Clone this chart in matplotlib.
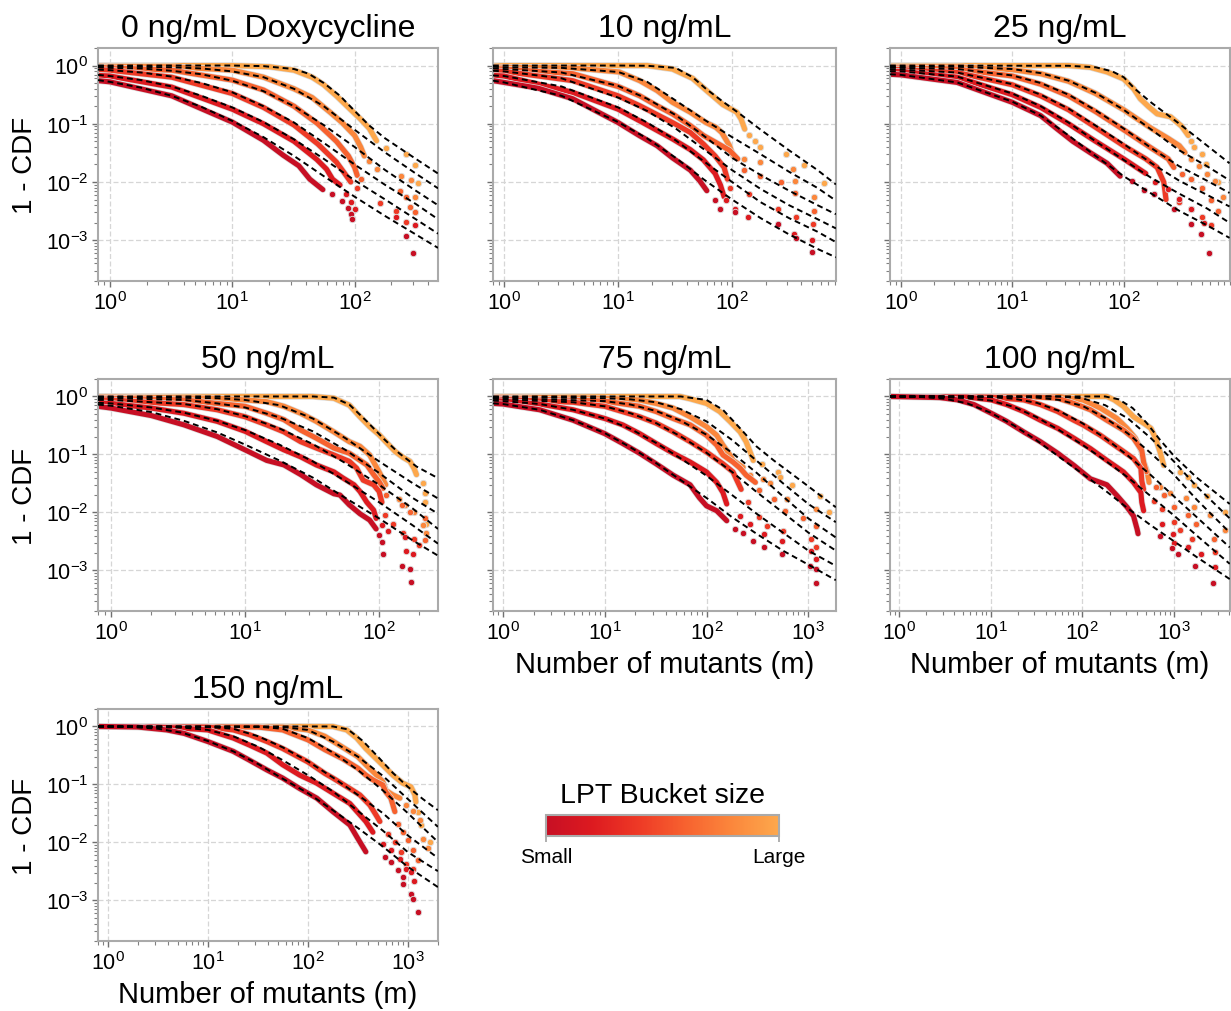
import numpy as np
import matplotlib
matplotlib.use("Agg")
import matplotlib as mpl
import matplotlib.pyplot as plt
import matplotlib.patheffects as pe
from matplotlib.colors import LinearSegmentedColormap
from matplotlib.ticker import LogLocator, NullFormatter

plt.rcParams['font.family'] = ['Liberation Sans', 'DejaVu Sans']

# ---------------------------------------------------------------------------
# Panel titles and x-axis upper limits
titles = ["0 ng/mL Doxycycline", "10 ng/mL", "25 ng/mL",
          "50 ng/mL", "75 ng/mL", "100 ng/mL", "150 ng/mL"]
x_upper = [480, 815, 900, 275, 1870, 4100, 2000]
bucket_labels = ["Small", "Large"]

# ---------------------------------------------------------------------------
# 0 ng/mL: fitted 1-CDF curves (six LPT buckets, small -> large)
dox0_fit_x = [
    [0.8, 1, 1.8, 3.2, 5.6, 10, 18, 32, 56, 100, 178, 316, 480],
    [0.8, 1, 1.8, 3.2, 5.6, 10, 18, 32, 56, 100, 178, 316, 480],
    [0.8, 1, 1.8, 3.2, 5.6, 10, 18, 32, 56, 100, 178, 316, 480],
    [0.8, 1, 1.8, 3.2, 5.6, 10, 18, 32, 56, 100, 178, 316, 480],
    [0.8, 1, 3.2, 5.6, 10, 18, 32, 56, 100, 178, 316, 480],
    [0.8, 10, 18, 32, 42, 56, 76, 100, 132, 178, 316, 480]]
dox0_fit_y = [
    [0.562, 0.525, 0.417, 0.302, 0.195, 0.112, 0.059, 0.028, 0.0126, 0.0056, 0.0026, 0.00126, 0.00074],
    [0.692, 0.661, 0.562, 0.437, 0.302, 0.191, 0.107, 0.054, 0.025, 0.0107, 0.005, 0.0023, 0.0013],
    [0.851, 0.832, 0.759, 0.646, 0.501, 0.347, 0.2, 0.105, 0.047, 0.02, 0.0089, 0.0042, 0.0023],
    [0.933, 0.912, 0.891, 0.813, 0.708, 0.55, 0.363, 0.2, 0.095, 0.04, 0.016, 0.0071, 0.004],
    [0.977, 0.966, 0.933, 0.891, 0.794, 0.631, 0.398, 0.2, 0.079, 0.032, 0.014, 0.0078],
    [1, 1, 0.977, 0.871, 0.724, 0.501, 0.302, 0.166, 0.093, 0.056, 0.025, 0.014]]
# 0 ng/mL: observed 1-CDF (dense part and sparse tail)
dox0_obs_x = [
    [0.8, 1, 3.2, 10, 18, 26, 35, 43, 55],
    [0.8, 1, 3.2, 10, 18, 32, 49, 59, 66, 76],
    [0.8, 1, 3.2, 10, 18, 32, 50, 71, 83, 93],
    [0.8, 1, 3.2, 10, 18, 32, 50, 71, 89, 100, 105],
    [0.8, 1, 3.2, 10, 18, 32, 45, 63, 79, 100, 112, 120],
    [0.8, 10, 20, 32, 45, 56, 71, 89, 112, 132, 151]]
dox0_obs_y = [
    [0.55, 0.525, 0.302, 0.107, 0.052, 0.029, 0.019, 0.0112, 0.0074],
    [0.676, 0.661, 0.427, 0.178, 0.1, 0.05, 0.0245, 0.0166, 0.0112, 0.0089],
    [0.851, 0.832, 0.631, 0.331, 0.191, 0.095, 0.045, 0.022, 0.014, 0.01],
    [0.933, 0.912, 0.832, 0.562, 0.38, 0.2, 0.1, 0.05, 0.028, 0.0178, 0.013],
    [0.977, 0.966, 0.955, 0.832, 0.631, 0.398, 0.282, 0.158, 0.105, 0.063, 0.04, 0.028],
    [1, 1, 0.955, 0.832, 0.631, 0.468, 0.302, 0.191, 0.12, 0.083, 0.051]]
dox0_tail_x = [
    [65, 79, 89, 93, 95, 263, 302],
    [85, 93, 100, 219, 309],
    [105, 162, 219, 263],
    [112, 234, 263, 282, 309],
    [132, 151, 240, 288, 309],
    [182, 263, 309, 331]]
dox0_tail_y = [
    [0.0062, 0.0048, 0.0036, 0.0028, 0.0023, 0.0012, 0.0006],
    [0.0063, 0.0045, 0.0035, 0.0025, 0.0018],
    [0.0079, 0.0043, 0.0032, 0.0021],
    [0.0112, 0.0071, 0.0056, 0.0038, 0.003],
    [0.023, 0.0166, 0.0126, 0.0107, 0.0056],
    [0.039, 0.030, 0.0195, 0.0098]]

# ---------------------------------------------------------------------------
# 10 ng/mL
dox10_fit_x = [
    [0.8, 1, 3.2, 10, 18, 32, 56, 100, 178, 316, 562, 813],
    [0.8, 1, 3.2, 10, 18, 32, 56, 100, 178, 316, 562, 813],
    [0.8, 1, 3.2, 10, 18, 32, 56, 100, 178, 316, 562, 813],
    [0.8, 1, 3.2, 10, 18, 32, 56, 100, 178, 316, 562, 813],
    [0.8, 1, 3.2, 10, 18, 32, 56, 100, 178, 316, 562, 813],
    [0.8, 10, 18, 32, 45, 59, 83, 117, 178, 316, 562, 813]]
dox10_fit_y = [
    [0.55, 0.513, 0.302, 0.107, 0.056, 0.026, 0.0112, 0.005, 0.0024, 0.00126, 0.00071, 0.00051],
    [0.676, 0.661, 0.437, 0.191, 0.105, 0.052, 0.023, 0.01, 0.0045, 0.0024, 0.0014, 0.00093],
    [0.813, 0.794, 0.603, 0.282, 0.166, 0.083, 0.037, 0.016, 0.0076, 0.004, 0.0023, 0.0016],
    [0.891, 0.871, 0.759, 0.447, 0.269, 0.141, 0.063, 0.026, 0.0132, 0.0071, 0.004, 0.0028],
    [0.955, 0.933, 0.912, 0.776, 0.525, 0.251, 0.12, 0.059, 0.03, 0.015, 0.0079, 0.0048],
    [1, 1, 0.99, 0.912, 0.631, 0.398, 0.24, 0.148, 0.079, 0.035, 0.016, 0.0091]]
dox10_obs_x = [
    [0.8, 1, 2, 4, 10, 15.5, 22, 30, 43, 52, 60],
    [0.8, 1, 4, 10, 15.5, 30, 43, 56, 71, 79, 85],
    [0.8, 1, 4, 10, 15.5, 30, 43, 56, 71, 85, 91],
    [0.8, 1, 4, 10, 15.5, 22, 30, 43, 56, 76, 95, 112],
    [0.8, 1, 4, 10.2, 15.5, 22, 30, 43, 59, 72, 81, 95, 102],
    [0.8, 18, 30, 45, 59, 83, 110, 120, 129]]
dox10_obs_y = [
    [0.55, 0.513, 0.407, 0.269, 0.105, 0.062, 0.042, 0.026, 0.016, 0.0105, 0.0071],
    [0.676, 0.661, 0.347, 0.178, 0.112, 0.055, 0.036, 0.024, 0.014, 0.0089, 0.0056],
    [0.813, 0.794, 0.55, 0.302, 0.204, 0.105, 0.071, 0.045, 0.028, 0.0178, 0.0112],
    [0.891, 0.871, 0.724, 0.437, 0.302, 0.204, 0.148, 0.093, 0.063, 0.045, 0.035, 0.025],
    [0.955, 0.933, 0.912, 0.776, 0.55, 0.372, 0.234, 0.158, 0.105, 0.087, 0.071, 0.042, 0.028],
    [1, 1, 0.871, 0.603, 0.38, 0.214, 0.158, 0.12, 0.081]]
dox10_tail_x = [
    [71, 79, 107, 251, 363, 501],
    [89, 107, 138, 347, 501],
    [95, 141, 251, 363, 513],
    [126, 174, 269, 355, 525],
    [126, 174, 339, 355, 525],
    [141, 158, 174, 295, 427, 646]]
dox10_tail_y = [
    [0.005, 0.0035, 0.003, 0.0019, 0.0011, 0.00062],
    [0.005, 0.0035, 0.0025, 0.00126, 0.001],
    [0.0079, 0.0063, 0.0035, 0.0025, 0.0019],
    [0.0162, 0.0126, 0.01, 0.0065, 0.0032],
    [0.025, 0.022, 0.0166, 0.0105, 0.0056],
    [0.063, 0.05, 0.04, 0.03, 0.0195, 0.0098]]

# ---------------------------------------------------------------------------
# 25 ng/mL
dox25_fit_x = [
    [0.8, 1, 3.2, 10, 18, 32, 56, 100, 178, 316, 562, 891],
    [0.8, 1, 3.2, 10, 18, 32, 56, 100, 178, 316, 562, 891],
    [0.8, 1, 3.2, 10, 18, 32, 56, 100, 178, 316, 562, 891],
    [0.8, 1, 3.2, 10, 18, 32, 56, 100, 178, 316, 562, 891],
    [0.8, 1, 3.2, 10, 18, 32, 56, 100, 178, 316, 562, 891],
    [0.8, 32, 56, 79, 100, 126, 178, 316, 562, 891]]
dox25_fit_y = [
    [0.708, 0.692, 0.513, 0.24, 0.138, 0.063, 0.028, 0.0126, 0.0063, 0.0032, 0.0018, 0.0011],
    [0.794, 0.794, 0.646, 0.331, 0.2, 0.105, 0.05, 0.024, 0.0117, 0.0063, 0.0035, 0.002],
    [0.851, 0.851, 0.759, 0.479, 0.316, 0.182, 0.093, 0.045, 0.021, 0.0105, 0.006, 0.0038],
    [0.912, 0.912, 0.871, 0.676, 0.501, 0.316, 0.17, 0.083, 0.038, 0.0186, 0.0105, 0.0065],
    [0.955, 0.955, 0.955, 0.871, 0.741, 0.55, 0.339, 0.174, 0.079, 0.035, 0.0186, 0.0107],
    [1, 0.99, 0.933, 0.794, 0.631, 0.398, 0.229, 0.1, 0.042, 0.021]]
dox25_obs_x = [
    [0.8, 1, 3.2, 10, 18, 25, 35, 50, 71, 93],
    [0.8, 1, 3.2, 10, 18, 32, 56, 100, 158],
    [0.8, 1, 3.2, 10, 18, 32, 56, 100, 158, 200, 229, 240],
    [0.8, 1, 3.2, 10, 18, 32, 56, 100, 178, 251, 282],
    [0.8, 1, 3.2, 10, 18, 32, 56, 100, 178, 251, 316, 355],
    [0.8, 32, 50, 71, 100, 123, 141, 166, 200, 263, 331, 380]]
dox25_obs_y = [
    [0.708, 0.692, 0.513, 0.234, 0.138, 0.083, 0.05, 0.032, 0.021, 0.0126],
    [0.794, 0.794, 0.631, 0.316, 0.191, 0.1, 0.05, 0.025, 0.014],
    [0.851, 0.851, 0.759, 0.468, 0.302, 0.174, 0.087, 0.042, 0.025, 0.0178, 0.01, 0.005],
    [0.912, 0.912, 0.871, 0.661, 0.479, 0.302, 0.162, 0.079, 0.038, 0.025, 0.0178],
    [0.955, 0.955, 0.955, 0.851, 0.724, 0.537, 0.331, 0.174, 0.083, 0.056, 0.042, 0.032],
    [1, 1, 0.933, 0.776, 0.589, 0.398, 0.269, 0.2, 0.148, 0.132, 0.091, 0.063]]
dox25_tail_x = [
    [120, 151, 186, 282, 398, 490, 589],
    [190, 251, 316, 398, 525],
    [316, 398, 501, 603],
    [331, 398, 501, 603, 708],
    [398, 479, 562, 661, 776],
    [398, 427, 501, 550, 708]]
dox25_tail_y = [
    [0.0105, 0.0074, 0.0063, 0.0035, 0.0019, 0.00126, 0.0006],
    [0.01, 0.0076, 0.0052, 0.0035, 0.002],
    [0.0045, 0.0035, 0.0025, 0.0018],
    [0.014, 0.0112, 0.0079, 0.005, 0.0032],
    [0.025, 0.019, 0.014, 0.0105, 0.0056],
    [0.05, 0.04, 0.03, 0.02, 0.01]]

# ---------------------------------------------------------------------------
# 50 ng/mL
dox50_fit_x = [
    [0.8, 1, 2, 3.5, 6.2, 10, 18, 32, 56, 100, 178, 275],
    [0.8, 1, 2, 3.5, 6.2, 10, 18, 32, 56, 100, 178, 275],
    [0.8, 1, 3.5, 6.2, 10, 18, 32, 56, 100, 178, 275],
    [0.8, 1, 3.5, 6.2, 10, 18, 32, 56, 100, 178, 275],
    [0.8, 1, 6.2, 10, 18, 32, 56, 100, 178, 275],
    [0.8, 32, 46, 60, 81, 107, 141, 190, 275]]
dox50_fit_y = [
    [0.724, 0.692, 0.537, 0.38, 0.24, 0.148, 0.079, 0.04, 0.0178, 0.0079, 0.0033, 0.0018],
    [0.776, 0.759, 0.646, 0.525, 0.38, 0.263, 0.148, 0.076, 0.035, 0.015, 0.006, 0.0029],
    [0.871, 0.871, 0.741, 0.603, 0.457, 0.282, 0.151, 0.071, 0.03, 0.0117, 0.0052],
    [0.933, 0.933, 0.871, 0.759, 0.646, 0.437, 0.251, 0.12, 0.048, 0.0178, 0.0095],
    [0.977, 0.977, 0.933, 0.871, 0.708, 0.417, 0.191, 0.076, 0.032, 0.0174],
    [1, 1, 0.955, 0.724, 0.372, 0.191, 0.105, 0.062, 0.039]]
dox50_obs_x = [
    [0.8, 1, 2, 3.5, 6.2, 10, 14.5, 19.5, 26, 34, 46, 51, 60, 72, 85, 95],
    [0.8, 1, 2, 3.5, 6.2, 10, 14.5, 19.5, 26, 34, 46, 54, 65, 72, 81, 91, 95],
    [0.8, 1, 3.5, 6.2, 10, 14.5, 19.5, 26, 34, 46, 60, 68, 76, 91, 100, 105],
    [0.8, 1, 3.5, 6.2, 10, 14.5, 19.5, 26, 34, 46, 60, 81, 91, 100, 107],
    [0.8, 1, 6.2, 10, 14.5, 19.5, 26, 34, 46, 60, 72, 85, 100, 112],
    [0.8, 32, 46, 60, 72, 85, 100, 112, 132, 151, 170, 182, 190]]
dox50_obs_y = [
    [0.676, 0.631, 0.468, 0.324, 0.204, 0.12, 0.079, 0.066, 0.045, 0.03, 0.021, 0.02, 0.0135, 0.0095, 0.0074, 0.0052],
    [0.776, 0.759, 0.631, 0.513, 0.372, 0.251, 0.166, 0.12, 0.091, 0.066, 0.05, 0.039, 0.03, 0.023, 0.015, 0.011, 0.0079],
    [0.871, 0.871, 0.724, 0.589, 0.447, 0.324, 0.245, 0.166, 0.129, 0.098, 0.076, 0.058, 0.036, 0.03, 0.023, 0.015],
    [0.933, 0.933, 0.871, 0.759, 0.676, 0.513, 0.398, 0.263, 0.191, 0.129, 0.105, 0.066, 0.045, 0.034, 0.026],
    [0.977, 0.977, 0.933, 0.871, 0.813, 0.676, 0.513, 0.372, 0.245, 0.166, 0.138, 0.098, 0.05, 0.03],
    [1, 1, 0.933, 0.708, 0.447, 0.302, 0.219, 0.166, 0.112, 0.089, 0.076, 0.058, 0.045]]
dox50_tail_x = [
    [100, 105, 107, 148, 170, 174],
    [105, 117, 155, 158, 178],
    [110, 126, 151, 182, 200],
    [112, 148, 170, 219, 219],
    [141, 155, 182, 214, 224],
    [214, 219, 219, 224]]
dox50_tail_y = [
    [0.0041, 0.0031, 0.0019, 0.0012, 0.00107, 0.00063],
    [0.006, 0.0047, 0.0038, 0.0022, 0.0019],
    [0.0089, 0.0063, 0.0044, 0.0035, 0.0028],
    [0.02, 0.0135, 0.0102, 0.0079, 0.0033],
    [0.0174, 0.0135, 0.0102, 0.006, 0.0045],
    [0.032, 0.022, 0.015, 0.0063]]

# ---------------------------------------------------------------------------
# 75 ng/mL
dox75_fit_x = [
    [0.8, 1, 2.3, 4.9, 10, 18, 32, 56, 100, 178, 316, 562, 1000, 1862],
    [0.8, 1, 2.3, 4.9, 10, 18, 32, 56, 100, 178, 316, 562, 1000, 1862],
    [0.8, 1, 4.9, 10, 18, 32, 56, 100, 178, 316, 562, 1000, 1862],
    [0.8, 1, 10, 18, 32, 56, 100, 178, 316, 562, 1000, 1862],
    [0.8, 1, 10, 18, 32, 56, 100, 178, 316, 562, 1000, 1862],
    [0.8, 56, 100, 145, 214, 309, 457, 955, 1862]]
dox75_fit_y = [
    [0.759, 0.741, 0.589, 0.389, 0.234, 0.132, 0.071, 0.036, 0.0178, 0.0083, 0.0042, 0.0022, 0.00126, 0.00068],
    [0.851, 0.832, 0.741, 0.589, 0.417, 0.275, 0.158, 0.085, 0.043, 0.02, 0.0093, 0.0045, 0.0022, 0.0012],
    [0.912, 0.891, 0.794, 0.676, 0.513, 0.347, 0.204, 0.107, 0.05, 0.022, 0.01, 0.0045, 0.0022],
    [0.955, 0.933, 0.832, 0.724, 0.562, 0.38, 0.219, 0.107, 0.047, 0.019, 0.0079, 0.0037],
    [0.977, 0.977, 0.933, 0.891, 0.794, 0.603, 0.372, 0.178, 0.076, 0.032, 0.014, 0.0068],
    [1, 1, 0.871, 0.589, 0.282, 0.138, 0.079, 0.03, 0.0123]]
dox75_obs_x = [
    [0.8, 1, 2.3, 4.9, 10, 15, 22, 32, 47, 69, 85, 100, 126, 158],
    [0.8, 1, 2.3, 4.9, 10, 15, 22, 32, 47, 69, 100, 126, 145, 158],
    [0.8, 1, 4.9, 10, 22, 32, 47, 69, 100, 145, 182, 200, 219],
    [0.8, 1, 10, 22, 32, 47, 69, 100, 126, 145, 182, 214, 245, 302],
    [0.8, 1, 10, 22, 32, 47, 69, 100, 126, 145, 170, 182, 229],
    [0.8, 55, 69, 100, 135, 170, 214, 245, 275, 288]]
dox75_obs_y = [
    [0.759, 0.741, 0.589, 0.389, 0.229, 0.155, 0.105, 0.069, 0.044, 0.03, 0.018, 0.013, 0.0107, 0.0072],
    [0.851, 0.832, 0.741, 0.589, 0.417, 0.324, 0.229, 0.155, 0.105, 0.074, 0.05, 0.033, 0.022, 0.014],
    [0.912, 0.891, 0.794, 0.676, 0.447, 0.347, 0.245, 0.166, 0.11, 0.069, 0.05, 0.035, 0.025],
    [0.955, 0.933, 0.832, 0.676, 0.55, 0.417, 0.324, 0.214, 0.145, 0.098, 0.074, 0.058, 0.044, 0.033],
    [0.977, 0.977, 0.933, 0.871, 0.759, 0.631, 0.447, 0.302, 0.214, 0.145, 0.098, 0.079, 0.06],
    [1, 1, 0.912, 0.759, 0.55, 0.372, 0.245, 0.166, 0.098, 0.079]]
dox75_tail_x = [
    [190, 229, 288, 363, 550, 1047, 1202, 1202],
    [214, 269, 363, 550, 1072, 1202],
    [257, 331, 389, 562, 1072, 1202],
    [331, 457, 589, 891, 1202],
    [269, 355, 417, 617, 1202],
    [347, 501, 525, 692, 1288, 1585]]
dox75_tail_y = [
    [0.0051, 0.0044, 0.0032, 0.0025, 0.0019, 0.0012, 0.00107, 0.00062],
    [0.0087, 0.0063, 0.0043, 0.0032, 0.0022, 0.0016],
    [0.015, 0.0083, 0.0059, 0.0048, 0.0035, 0.0025],
    [0.024, 0.017, 0.0107, 0.0079, 0.0059],
    [0.045, 0.038, 0.032, 0.017, 0.0115],
    [0.069, 0.05, 0.041, 0.03, 0.0195, 0.01]]

# ---------------------------------------------------------------------------
# 100 ng/mL
dox100_fit_x = [
    [0.8, 1.8, 3.2, 5.6, 10, 18, 32, 56, 100, 178, 316, 562, 1000, 1778, 4074],
    [0.8, 3.2, 5.6, 10, 18, 32, 56, 100, 178, 316, 562, 1000, 1778, 4074],
    [0.8, 10, 18, 32, 56, 100, 178, 316, 562, 1000, 1778, 4074],
    [0.8, 18, 32, 56, 100, 178, 316, 562, 1000, 1778, 4074],
    [0.8, 56, 100, 178, 316, 562, 1000, 1778, 4074],
    [0.8, 178, 251, 355, 501, 708, 1000, 1778, 4074]]
dox100_fit_y = [
    [1, 0.977, 0.912, 0.759, 0.525, 0.316, 0.174, 0.091, 0.047, 0.024, 0.0117, 0.006, 0.0032, 0.0017, 0.00071],
    [1, 0.977, 0.933, 0.851, 0.661, 0.437, 0.263, 0.148, 0.079, 0.04, 0.019, 0.0089, 0.004, 0.0013],
    [1, 0.977, 0.912, 0.776, 0.562, 0.347, 0.191, 0.095, 0.044, 0.019, 0.0083, 0.0025],
    [1, 0.99, 0.955, 0.871, 0.692, 0.427, 0.229, 0.105, 0.045, 0.0166, 0.0045],
    [1, 1, 0.933, 0.708, 0.417, 0.191, 0.076, 0.028, 0.0079],
    [1, 1, 0.891, 0.631, 0.355, 0.178, 0.095, 0.04, 0.014]]
dox100_obs_x = [
    [0.8, 2.8, 4.4, 6.6, 10.2, 15, 23, 35, 54, 81, 123, 186, 240, 309, 363, 398, 407],
    [0.8, 5.6, 10.2, 15, 23, 35, 54, 81, 123, 186, 282, 363, 437, 447, 468],
    [0.8, 10, 23, 35, 54, 81, 102, 158, 240, 363, 437, 447, 468],
    [0.8, 32, 54, 81, 123, 186, 282, 363, 447, 468, 501],
    [0.8, 56, 102, 158, 240, 309, 380, 447, 468, 513, 537],
    [0.8, 186, 224, 282, 363, 468, 562, 631, 708, 776]]
dox100_obs_y = [
    [1, 0.955, 0.871, 0.724, 0.513, 0.372, 0.245, 0.166, 0.105, 0.065, 0.038, 0.03, 0.0195, 0.0123, 0.0087, 0.0051, 0.0043],
    [1, 0.977, 0.871, 0.724, 0.55, 0.389, 0.282, 0.191, 0.126, 0.079, 0.05, 0.033, 0.022, 0.015, 0.0107],
    [1, 0.977, 0.871, 0.724, 0.55, 0.389, 0.324, 0.214, 0.135, 0.085, 0.058, 0.035, 0.025],
    [1, 0.977, 0.933, 0.759, 0.589, 0.389, 0.263, 0.191, 0.117, 0.074, 0.05],
    [1, 1, 0.871, 0.631, 0.417, 0.282, 0.191, 0.11, 0.074, 0.05, 0.033],
    [1, 1, 0.871, 0.676, 0.447, 0.347, 0.282, 0.191, 0.11, 0.065]]
dox100_tail_x = [
    [708, 955, 1122, 1698, 2692],
    [741, 977, 1000, 1413, 1995, 2818],
    [603, 741, 1000, 1175, 1585, 2818],
    [631, 776, 1000, 1413, 1738, 2754],
    [708, 912, 1349, 1660, 2512, 3631],
    [1175, 1413, 1660, 2291, 3631]]
dox100_tail_y = [
    [0.0039, 0.0024, 0.0019, 0.0012, 0.00062],
    [0.0063, 0.0043, 0.003, 0.0025, 0.0019, 0.00117],
    [0.016, 0.0115, 0.0068, 0.005, 0.0035, 0.0021],
    [0.028, 0.02, 0.0126, 0.0089, 0.0063, 0.0035],
    [0.028, 0.022, 0.0178, 0.0126, 0.0089, 0.005],
    [0.05, 0.041, 0.03, 0.0195, 0.01]]

# ---------------------------------------------------------------------------
# 150 ng/mL
dox150_fit_x = [
    [0.8, 1.8, 3.2, 5.6, 10, 18, 32, 56, 100, 178, 316, 562, 1000, 1995],
    [0.8, 3.2, 5.6, 10, 18, 32, 56, 100, 178, 316, 562, 1000, 1995],
    [0.8, 10, 18, 32, 56, 100, 178, 316, 562, 1000, 1995],
    [0.8, 32, 56, 100, 178, 316, 562, 1000, 1995],
    [0.8, 56, 100, 178, 316, 562, 1000, 1995],
    [0.8, 178, 251, 355, 501, 708, 1000, 1413, 1995]]
dox150_fit_y = [
    [1, 0.977, 0.912, 0.776, 0.562, 0.372, 0.224, 0.126, 0.071, 0.036, 0.0178, 0.0085, 0.0038, 0.0017],
    [1, 0.977, 0.955, 0.871, 0.676, 0.447, 0.263, 0.145, 0.076, 0.035, 0.016, 0.0068, 0.0032],
    [1, 0.977, 0.912, 0.676, 0.437, 0.251, 0.132, 0.066, 0.032, 0.0132, 0.0054],
    [1, 0.99, 0.912, 0.631, 0.355, 0.178, 0.079, 0.032, 0.0102],
    [1, 0.977, 0.871, 0.55, 0.302, 0.141, 0.056, 0.0186],
    [1, 1, 0.891, 0.562, 0.302, 0.158, 0.091, 0.056, 0.036]]
dox150_obs_x = [
    [0.8, 2, 3.9, 5.8, 10, 18, 26, 39, 56, 83, 123, 178, 263, 316, 380],
    [0.8, 3.2, 5.6, 10, 18, 26, 39, 56, 83, 123, 178, 263, 380, 447],
    [0.8, 10, 18, 26, 39, 56, 100, 148, 178, 263, 331, 417, 479, 525],
    [0.8, 32, 56, 100, 148, 219, 316, 380, 447, 562, 603, 676, 741],
    [0.8, 56, 100, 148, 219, 316, 380, 468, 562, 603, 708, 832],
    [0.8, 178, 245, 309, 380, 479, 603, 708, 891, 1072, 1175, 1202]]
dox150_obs_y = [
    [1, 0.977, 0.871, 0.759, 0.55, 0.372, 0.263, 0.178, 0.129, 0.085, 0.058, 0.034, 0.02, 0.0117, 0.0069],
    [1, 0.977, 0.933, 0.871, 0.631, 0.479, 0.347, 0.219, 0.145, 0.105, 0.071, 0.047, 0.023, 0.015],
    [1, 0.977, 0.871, 0.724, 0.55, 0.417, 0.245, 0.155, 0.129, 0.085, 0.066, 0.044, 0.03, 0.023],
    [1, 0.977, 0.871, 0.589, 0.398, 0.282, 0.191, 0.145, 0.12, 0.098, 0.074, 0.058, 0.034],
    [1, 0.977, 0.871, 0.676, 0.447, 0.302, 0.219, 0.155, 0.112, 0.079, 0.066, 0.058],
    [1, 1, 0.871, 0.631, 0.417, 0.282, 0.191, 0.145, 0.105, 0.091, 0.066, 0.05]]
dox150_tail_x = [
    [589, 676, 794, 891, 891, 1072, 1122, 1259],
    [562, 676, 832, 955, 1072, 1148],
    [631, 741, 851, 955, 1122],
    [794, 891, 1000, 1122, 1259],
    [955, 1122, 1318, 1413, 1585],
    [1259, 1349, 1660]]
dox150_tail_y = [
    [0.0056, 0.0046, 0.0033, 0.0025, 0.0019, 0.0013, 0.00107, 0.00063],
    [0.0095, 0.0074, 0.0052, 0.0035, 0.0031, 0.0022],
    [0.014, 0.0102, 0.0069, 0.0043, 0.0035],
    [0.021, 0.015, 0.011, 0.0074, 0.005],
    [0.045, 0.035, 0.024, 0.0117, 0.0079],
    [0.034, 0.02, 0.0102]]

# ---------------------------------------------------------------------------
# Styling
bucket_colors = ['#c70f24', '#dd1a20', '#ee3a26', '#f7622f', '#fb873c', '#fda84c']

W, H = 1231, 1012
col_px = [(98, 438), (493, 836), (890, 1230)]
row_px = [(49, 282), (380, 612), (710, 942)]
slots = [(0, 0), (1, 0), (2, 0), (0, 1), (1, 1), (2, 1), (0, 2)]
with_xlabel = [False, False, False, False, True, True, True]

panels = [
    (dox0_fit_x, dox0_fit_y, dox0_obs_x, dox0_obs_y, dox0_tail_x, dox0_tail_y),
    (dox10_fit_x, dox10_fit_y, dox10_obs_x, dox10_obs_y, dox10_tail_x, dox10_tail_y),
    (dox25_fit_x, dox25_fit_y, dox25_obs_x, dox25_obs_y, dox25_tail_x, dox25_tail_y),
    (dox50_fit_x, dox50_fit_y, dox50_obs_x, dox50_obs_y, dox50_tail_x, dox50_tail_y),
    (dox75_fit_x, dox75_fit_y, dox75_obs_x, dox75_obs_y, dox75_tail_x, dox75_tail_y),
    (dox100_fit_x, dox100_fit_y, dox100_obs_x, dox100_obs_y, dox100_tail_x, dox100_tail_y),
    (dox150_fit_x, dox150_fit_y, dox150_obs_x, dox150_obs_y, dox150_tail_x, dox150_tail_y),
]

fig = plt.figure(figsize=(W / 100, H / 100), dpi=100)

for i, (fx, fy, ox, oy, tx, ty) in enumerate(panels):
    c, r = slots[i]
    left, right = col_px[c]
    top, bottom = row_px[r]
    ax = fig.add_axes([left / W, 1 - bottom / H, (right - left) / W, (bottom - top) / H])
    ax.set_xscale('log')
    ax.set_yscale('log')

    # observed distributions: larger buckets first so the small ones sit on top
    for k in reversed(range(6)):
        col = bucket_colors[k]
        ax.plot(ox[k], oy[k], color=col, lw=3.7, solid_capstyle='round',
                solid_joinstyle='round', zorder=2,
                path_effects=[pe.Stroke(linewidth=4.7, foreground='#dddddd'), pe.Normal()])
        ax.plot(tx[k], ty[k], ls='none', marker='o', ms=4.6, mfc=col,
                mec='#dedede', mew=0.6, zorder=2)
    # fitted curves
    for k in range(6):
        ax.plot(fx[k], fy[k], color='black', lw=1.4, dashes=(3.0, 2.0), zorder=4)

    ax.set_xlim(0.8, x_upper[i])
    ax.set_ylim(2e-4, 2)

    for axis in (ax.xaxis, ax.yaxis):
        axis.set_major_locator(LogLocator(base=10, numticks=20))
        axis.set_minor_locator(LogLocator(base=10, subs=np.arange(2, 10), numticks=100))
        axis.set_minor_formatter(NullFormatter())

    ax.set_axisbelow(True)
    ax.grid(True, which='major', color='#d6d6d6', lw=0.9, ls=(0, (4, 2)))
    ax.tick_params(which='major', direction='out', length=4.5, width=1.0,
                   color='#707070', labelsize=15.5, pad=2.5)
    ax.tick_params(which='minor', direction='out', length=2.6, width=0.8,
                   color='#808080')
    for s in ax.spines.values():
        s.set_color('#aaaaaa')
        s.set_linewidth(1.5)

    ax.set_title(titles[i], fontsize=23, pad=8.5)
    if c == 0:
        ax.set_ylabel('1 - CDF', fontsize=20)
        ax.yaxis.set_label_coords(-0.175, 0.5)
    else:
        ax.tick_params(axis='y', labelleft=False)
    if with_xlabel[i]:
        ax.set_xlabel('Number of mutants (m)', fontsize=21)
        ax.xaxis.set_label_coords(0.5, -0.17)

# LPT bucket colour scale
cax = fig.add_axes([546 / W, 1 - 837 / H, 233 / W, 21 / H])
cmap = LinearSegmentedColormap.from_list('lpt_bucket', bucket_colors)
cb = mpl.colorbar.ColorbarBase(cax, cmap=cmap, orientation='horizontal', ticks=[0, 1])
cb.set_ticklabels(bucket_labels)
cb.outline.set_edgecolor('#aaaaaa')
cb.outline.set_linewidth(1.5)
cax.tick_params(length=4, width=1.1, color='#999999', labelsize=15, pad=4)
cax.set_title('LPT Bucket size', fontsize=20.5, pad=9)

fig.savefig('out.png', dpi=100)
